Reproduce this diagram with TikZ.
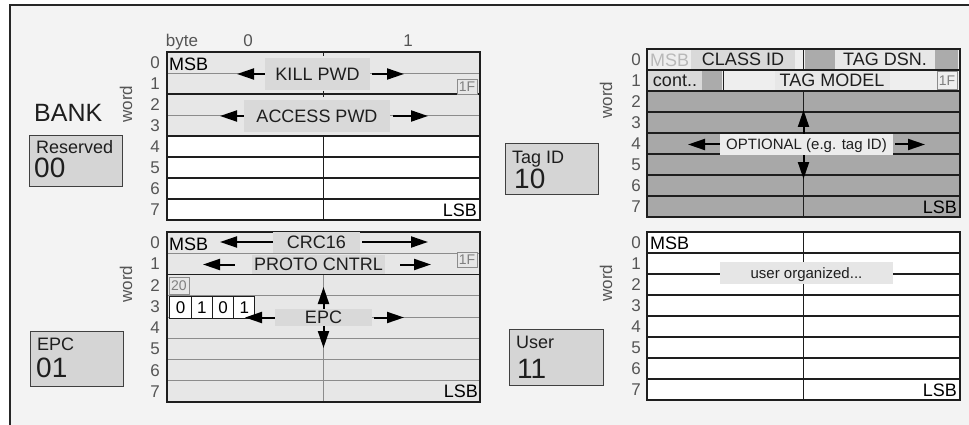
\documentclass[tikz,border=0pt]{standalone}
\usepackage{fontspec}
\setmainfont{Liberation Sans}
\usetikzlibrary{arrows.meta}
\definecolor{bgc}{HTML}{F3F3F3}
\definecolor{lfill}{HTML}{E7E7E7}
\definecolor{lbox}{HTML}{D9D9D9}
\definecolor{dfill}{HTML}{A8A8A8}
\definecolor{dblock}{HTML}{ABABAB}
\definecolor{vlight}{HTML}{EEEEEE}
\definecolor{optfill}{HTML}{ECECEC}
\definecolor{ufill}{HTML}{E6E6E6}
\definecolor{bankfill}{HTML}{D5D5D5}
\definecolor{ink}{HTML}{1E1E1E}
\definecolor{numc}{HTML}{555555}
\definecolor{thinc}{HTML}{8C8C8C}
\definecolor{faint}{HTML}{B8B8B8}
\begin{document}
\begin{tikzpicture}[x=1pt,y=-1pt,
  gl/.style={draw=ink,line width=1.3pt},
  tl/.style={draw=thinc,line width=0.8pt},
  arr/.style={draw=black,line width=2pt,-{Triangle[length=17pt,width=11pt]}},
  f14/.style={font=\fontsize{14}{14}\selectfont,text height=10pt,text depth=0pt,inner sep=0pt},
  f15/.style={font=\fontsize{15}{15}\selectfont,text height=10.7pt,text depth=0pt,inner sep=0pt},
  f17/.style={font=\fontsize{17}{17}\selectfont,text height=12.2pt,text depth=0pt,inner sep=0pt},
  f18/.style={font=\fontsize{18}{18}\selectfont,text height=12.9pt,text depth=0pt,inner sep=0pt},
  f25/.style={font=\fontsize{25}{25}\selectfont,text height=17.9pt,text depth=0pt,inner sep=0pt},
  f28/.style={font=\fontsize{28}{28}\selectfont,text height=20pt,text depth=0pt,inner sep=0pt},
  lbl/.style={f18,fill=lbox,text=ink},
  rownum/.style={f17,text=numc},
  wordlbl/.style={f17,rotate=90,text=numc},
  msb/.style={f18,text=black,anchor=west},
  lsb/.style={f18,text=black,anchor=east},
  tagbox/.style={f14,draw=thinc,line width=0.8pt,text=black!50,minimum width=20pt,minimum height=15pt},
  bitbox/.style={f17,draw=ink,line width=1pt,fill=white,text=black,minimum width=21.25pt,minimum height=22pt},
  bankbox/.style={draw=black!75,line width=1.3pt,fill=bankfill,inner sep=0pt,anchor=north west},
  banktxt/.style={f18,anchor=north west,text=ink},
  banknum/.style={f28,anchor=north west,text=ink},
]
\useasboundingbox (0,0) rectangle (969,425);
\fill[white] (0,0) rectangle (969,425);
\fill[bgc] (10,5) rectangle (969,425);
\draw[draw=black!85,line width=1.5pt] (10,425) -- (10,5) -- (969,5);

% ===== BANK heading and bank boxes =====
\node[f25,anchor=west,text=ink] (bank) at (34,113) {BANK};
\node[bankbox,minimum width=93pt,minimum height=51pt] (resbox) at (29,135) {};
\node[banktxt] (restxt) at (36,140) {Reserved};
\node[banknum] (resnum) at (34,157) {00};
\node[bankbox,minimum width=93pt,minimum height=55pt] (epcbox) at (30,331) {};
\node[banktxt] (epctxt) at (37,337) {EPC};
\node[banknum] (epcnum) at (36,357) {01};
\node[bankbox,minimum width=93pt,minimum height=51pt] (tidbox) at (505,143) {};
\node[banktxt] (tidtxt) at (512,150) {Tag ID};
\node[banknum] (tidnum) at (514,168) {10};
\node[bankbox,minimum width=94pt,minimum height=56pt] (usrbox) at (509,329) {};
\node[banktxt] (usrtxt) at (516,335) {User};
\node[banknum] (usrnum) at (517,358) {11};

% ===== header =====
\node[f17,text=numc] (byte) at (182,40.5) {byte};
\node[f17,text=numc] (byte0) at (248,40.5) {0};
\node[f17,text=numc] (byte1) at (408,40.5) {1};

% ===== word labels and row numbers =====
\node[wordlbl] (wA) at (126,104) {word};
\node[wordlbl] (wB) at (126,284) {word};
\node[wordlbl] (wC) at (606,100) {word};
\node[wordlbl] (wD) at (606,283) {word};
\foreach \i in {0,...,7}{
  \node[rownum] (nA\i) at (155,{52+21*(\i+0.5)}) {\i};
  \node[rownum] (nB\i) at (155,{232+21.25*(\i+0.5)}) {\i};
  \node[rownum] (nC\i) at (636,{49+21*(\i+0.5)}) {\i};
  \node[rownum] (nD\i) at (636,{232+21*(\i+0.5)}) {\i};
}

% ===== Grid A : Reserved =====
\fill[white] (167,136) rectangle (480,220);
\fill[lfill] (167,52) rectangle (480,136);
\draw[tl] (167,73) -- (480,73) (167,115) -- (480,115);
\draw[gl] (167,52) rectangle (480,220);
\foreach \yy in {94,136,157,178,199} \draw[gl] (167,\yy) -- (480,\yy);
\draw[gl] (323.5,136) -- (323.5,220);
\draw[gl] (323.5,52) -- (323.5,56) (323.5,91) -- (323.5,97);
\node[lbl,minimum width=105pt,minimum height=32pt] (kill) at (317.5,74) {KILL PWD};
\coordinate (killL) at (237,74);
\coordinate (killR) at (404,74);
\draw[arr] (kill.west) -- (killL);
\draw[arr] ([xshift=2pt]kill.east) -- (killR);
\node[lbl,minimum width=146pt,minimum height=32pt] (acc) at (317,116) {ACCESS PWD};
\coordinate (accL) at (220,116);
\coordinate (accR) at (428,116);
\draw[arr] (acc.west) -- (accL);
\draw[arr] ([xshift=3pt]acc.east) -- (accR);
\node[msb] (aMSB) at (169,64) {MSB};
\node[lsb] (aLSB) at (477,210) {LSB};
\node[tagbox,fill=lfill] (a1F) at (467,86.5) {1F};

% ===== Grid B : EPC =====
\fill[lfill] (167,232) rectangle (480,402);
\foreach \yy in {253.25,295.75,317,338.25,359.5,380.75} \draw[tl] (167,\yy) -- (480,\yy);
\draw[tl] (323.5,274.5) -- (323.5,402);
\draw[gl] (167,232) rectangle (480,402);
\draw[gl] (167,274.5) -- (480,274.5);
\node[lbl,minimum width=87pt,minimum height=21pt] (crc) at (316.5,242) {CRC16};
\coordinate (crcL) at (220,242);
\coordinate (crcR) at (428,242);
\draw[arr] (crc.west) -- (crcL);
\draw[arr] ([xshift=2pt]crc.east) -- (crcR);
\node[lbl,minimum width=133pt,minimum height=19pt] (proto) at (318.5,264.5) {PROTO CNTRL};
\coordinate (protoL) at (203,264.5);
\coordinate (protoR) at (431,264.5);
\draw[arr] ([xshift=-17pt]proto.west) -- (protoL);
\draw[arr] ([xshift=15pt]proto.east) -- (protoR);
\foreach \b/\t [count=\k] in {0/0,1/1,2/0,3/1}
  \node[bitbox] (bit\k) at ({180.6+21.25*\b},307) {\t};
\node[tagbox,minimum height=17pt] (b20) at (179,285.5) {20};
\node[tagbox,fill=lfill] (b1F) at (467,259.5) {1F};
\node[lbl,minimum width=97pt,minimum height=17pt] (epc) at (323.5,317.5) {EPC};
\coordinate (epcL) at (245,317.5);
\coordinate (epcR) at (404,317.5);
\coordinate (epcU) at (323.5,287);
\coordinate (epcD) at (323.5,348);
\draw[arr] (epc.west) -- (epcL);
\draw[arr] ([xshift=2pt]epc.east) -- (epcR);
\draw[arr] (epc.north) -- (epcU);
\draw[arr] (epc.south) -- (epcD);
\node[msb] (bMSB) at (169,244) {MSB};
\node[lsb] (bLSB) at (478,391) {LSB};

% ===== Grid C : Tag ID =====
\fill[dfill] (647,91) rectangle (960,217);
\fill[vlight] (647,49) rectangle (960,91);
\node[f18,text=faint,anchor=west] (cMSB) at (650,60) {MSB};
\node[f18,fill=lbox,text=ink,minimum width=104pt,minimum height=20pt] (classid) at (743,59.5) {CLASS ID};
\fill[dblock] (805,50) rectangle (835,69);
\node[f18,fill=lfill,text=ink,minimum width=100pt,minimum height=20pt] (tagdsn) at (885,59.5) {TAG DSN.};
\fill[dblock] (935,50) rectangle (958,69);
\node[f18,fill=lbox,text=ink,minimum width=54pt,minimum height=20pt] (cont) at (675,80.5) {cont..};
\fill[dblock] (702,71) rectangle (722,90);
\node[f18,fill=lfill,text=ink,minimum width=115pt,minimum height=20pt] (tagmodel) at (832,80.5) {TAG MODEL};
\node[tagbox,fill=vlight,minimum height=18pt] (c1F) at (947,80.5) {1F};
\draw[gl] (647,49) rectangle (960,217);
\foreach \yy in {70,91,112,133,154,175,196} \draw[gl] (647,\yy) -- (960,\yy);
\draw[gl] (803.5,49) -- (803.5,70);
\draw[gl] (723.5,70) -- (723.5,91);
\draw[draw=ink,line width=1pt] (803.5,91) -- (803.5,217);
\node[f15,fill=optfill,text=ink,minimum width=173pt,minimum height=21pt] (opt) at (806.5,144.5) {OPTIONAL (e.g. tag ID)};
\coordinate (optL) at (688,144.5);
\coordinate (optR) at (925,144.5);
\coordinate (optU) at (803.5,110);
\coordinate (optD) at (803.5,179);
\draw[arr] (opt.west) -- (optL);
\draw[arr] ([xshift=2pt]opt.east) -- (optR);
\draw[arr] ([xshift=-3pt]opt.north) -- (optU);
\draw[arr] ([xshift=-3pt]opt.south) -- (optD);
\node[lsb] (cLSB) at (957,207) {LSB};

% ===== Grid D : User =====
\fill[white] (647,232) rectangle (960,400);
\draw[gl] (647,232) rectangle (960,400);
\foreach \yy in {253,274,295,316,337,358,379} \draw[gl] (647,\yy) -- (960,\yy);
\draw[gl] (803.5,232) -- (803.5,400);
\node[f15,fill=ufill,text=ink,minimum width=173pt,minimum height=22pt] (user) at (806.5,273) {user organized...};
\node[msb] (dMSB) at (650,243) {MSB};
\node[lsb] (dLSB) at (957,390) {LSB};
\end{tikzpicture}
\end{document}
